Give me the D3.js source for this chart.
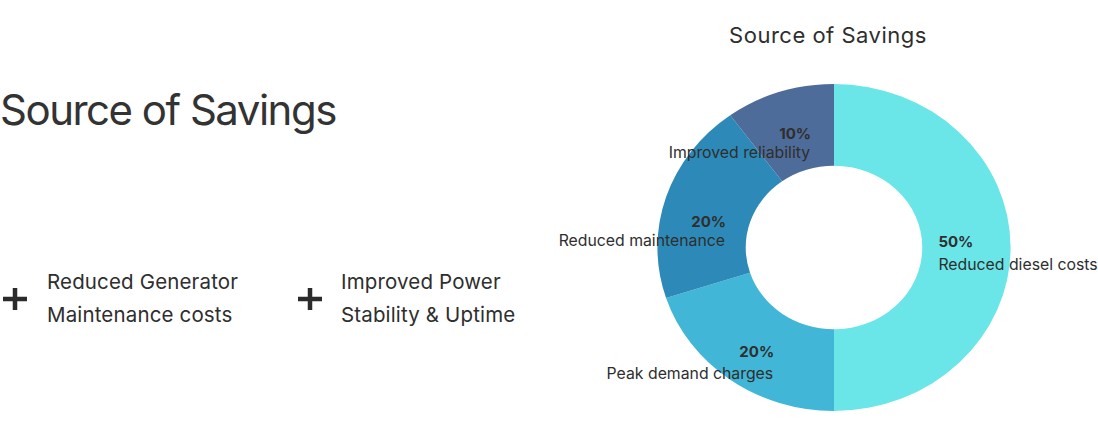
<!DOCTYPE html>
<html>
<head>
<meta charset="utf-8">
<script src="https://cdn.jsdelivr.net/npm/d3@7"></script>
<style>
  html, body { margin: 0; padding: 0; background: #fff; }
  svg { display: block; }
  text { font-family: Inter, "Noto Sans", sans-serif; }
</style>
</head>
<body>
<svg id="chart" width="1098" height="431"></svg>
<script>
// ---- data ----
const categories = ["Reduced diesel costs", "Peak demand charges", "Reduced maintenance", "Improved reliability"];
const values = [50, 20, 20, 10];
const colors = ["#6ae5e8", "#42b6d6", "#2d8ab8", "#4e6c99"];
const chartTitle = "Source of Savings";
const pageTitle = "Source of Savings";
const benefits = [
  ["Reduced Generator", "Maintenance costs"],
  ["Improved Power", "Stability & Uptime"]
];

const svg = d3.select("#chart");
const textColor = "#2e2e2e";

// ---- left panel ----
svg.append("text")
  .attr("x", 0).attr("y", 125)
  .attr("font-size", 42).attr("letter-spacing", -1.5).attr("fill", "#333")
  .text(pageTitle);

const bx = d3.scaleOrdinal().domain([0, 1]).range([15, 310]);
benefits.forEach((lines, i) => {
  const g = svg.append("g").attr("transform", `translate(${bx(i)},299)`);
  g.append("path")
    .attr("d", "M-12,0H12M0,-11V11")
    .attr("stroke", "#2b2b2b").attr("stroke-width", 4.5).attr("fill", "none");
  lines.forEach((t, j) => {
    g.append("text")
      .attr("x", i === 0 ? 32 : 31).attr("y", -9.7 + j * 32.4)
      .attr("font-size", 20.5).attr("letter-spacing", 0.15).attr("fill", textColor)
      .text(t);
  });
});

// ---- donut ----
const cx = 834, cy = 247.5, R = 163.5, sx = 1.08;
svg.append("text")
  .attr("x", 828).attr("y", 42.7)
  .attr("text-anchor", "middle")
  .attr("font-size", 22).attr("letter-spacing", 0.5).attr("fill", textColor)
  .text(chartTitle);

const pie = d3.pie().sort(null).value(d => d.v);
const data = pie(categories.map((c, i) => ({ c, v: values[i], col: colors[i] })));
const arc = d3.arc().innerRadius(R * 0.5).outerRadius(R);

const gPie = svg.append("g").attr("transform", `translate(${cx},${cy}) scale(${sx},1)`);
gPie.selectAll("path").data(data).join("path")
  .attr("d", arc)
  .attr("fill", d => d.data.col);

const gLab = svg.append("g");
data.forEach(d => {
  const [px, py] = arc.centroid(d);
  const x = cx + px * sx, y = cy + py;
  const mid = (d.startAngle + d.endAngle) / 2;
  const right = mid < Math.PI;
  const tx = right ? x - 28 : x + 18;
  const ty = right ? y - 0.8 : y + 8.5 + 11 * Math.pow(Math.abs(Math.sin(mid)), 4);
  const gap = py < -10 ? 18.6 : 22.8;
  const anchor = right ? "start" : "end";
  gLab.append("text")
    .attr("x", tx).attr("y", ty)
    .attr("text-anchor", anchor)
    .attr("font-size", 15).attr("font-weight", 700).attr("fill", textColor)
    .text(d.data.v + "%");
  gLab.append("text")
    .attr("x", tx - (right ? 0 : 1)).attr("y", ty + gap)
    .attr("text-anchor", anchor)
    .attr("font-size", 15.8).attr("fill", textColor)
    .text(d.data.c);
});
</script>
</body>
</html>
